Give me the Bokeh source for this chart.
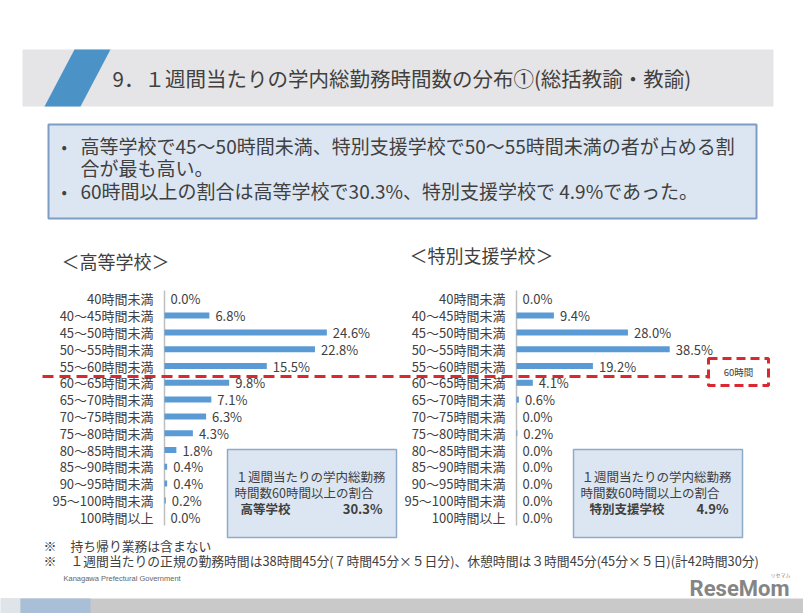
from bokeh.plotting import figure
from bokeh.models import Range1d, ColumnDataSource
from bokeh.embed import file_html
from bokeh.resources import INLINE
from bokeh.core.properties import value

# ---------------- data ----------------
categories = ["40時間未満", "40～45時間未満", "45～50時間未満", "50～55時間未満",
              "55～60時間未満", "60～65時間未満", "65～70時間未満", "70～75時間未満",
              "75～80時間未満", "80～85時間未満", "85～90時間未満", "90～95時間未満",
              "95～100時間未満", "100時間以上"]
high_school = [0.0, 6.8, 24.6, 22.8, 15.5, 9.8, 7.1, 6.3, 4.3, 1.8, 0.4, 0.4, 0.2, 0.0]
special_support = [0.0, 9.4, 28.0, 38.5, 19.2, 4.1, 0.6, 0.0, 0.2, 0.0, 0.0, 0.0, 0.0, 0.0]
threshold_index = 5  # first category at or above 60 hours

title_text = "9．１週間当たりの学内総勤務時間数の分布①(総括教諭・教諭)"
bullet_lines = ["高等学校で45～50時間未満、特別支援学校で50～55時間未満の者が占める割",
                "合が最も高い。",
                "60時間以上の割合は高等学校で30.3%、特別支援学校で 4.9%であった。"]
notes = ["持ち帰り業務は含まない",
         "１週間当たりの正規の勤務時間は38時間45分(７時間45分×５日分)、休憩時間は３時間45分(45分×５日)(計42時間30分)"]

FONT = "Noto Sans CJK JP"
TXT = "#404040"
BAR = "#5b9bd5"
RED = "#d9282f"

W, H = 803, 613
p = figure(width=W, height=H, x_range=Range1d(0, W), y_range=Range1d(H, 0),
           output_backend="svg", toolbar_location=None, min_border=0,
           x_axis_location=None, y_axis_location=None)
p.grid.visible = False
p.outline_line_color = None
p.background_fill_color = "white"
p.border_fill_color = "white"

p.extra_x_ranges = {"hs": Range1d((0 - 164) / 6.6, (W - 164) / 6.6),
                    "ss": Range1d((0 - 516) / 3.98, (W - 516) / 3.98)}
p.extra_y_ranges = {"rows": Range1d((H - 298.3) / 16.8, (0 - 298.3) / 16.8)}

def txt(x, y, s, size, color=TXT, align="left", style="normal", font=FONT, **kw):
    p.text(x=[x], y=[y], text=[s], text_font=value(font), text_font_size=size,
           text_color=color, text_align=align, text_baseline="middle",
           text_font_style=style, **kw)

# ---------------- header ----------------
p.quad(left=22, right=773, top=49, bottom=106, fill_color="#e5e5e7", line_color=None)
p.patch(x=[74, 110, 80, 44], y=[49, 49, 106, 106], fill_color="#4b92c7", line_color=None)
txt(112, 77, title_text, "20.5px")

# bullet box
p.quad(left=48, right=756, top=124, bottom=218, fill_color="#dce6f2",
       line_color="#7d9dc5", line_width=2)
bullet_y = [145, 167, 190]
for i, (line, yy) in enumerate(zip(bullet_lines, bullet_y)):
    if i != 1:
        txt(61, yy, "•", "16px")
    txt(80, yy, line, "19px")

# chart titles
txt(61, 260, "＜高等学校＞", "18px")
txt(409, 254, "＜特別支援学校＞", "18px")

# ---------------- charts ----------------
def chart(vals, xr):
    n = len(categories)
    src = ColumnDataSource(dict(idx=list(range(n)), cat=categories, val=vals,
                                lab=[f"{v:.1f}%" for v in vals], zero=[0] * n))
    p.segment(x0=0, y0=-0.5, x1=0, y1=n - 0.5, x_range_name=xr, y_range_name="rows",
              line_color="#bfbfbf", line_width=1.5)
    p.hbar(y="idx", left=0, right="val", height=0.36, source=src, fill_color=BAR,
           line_color=None, x_range_name=xr, y_range_name="rows")
    p.text(x="zero", y="idx", text="cat", source=src, x_offset=-11, text_align="right",
           text_baseline="middle", text_font=value(FONT), text_font_size="13px",
           text_color=TXT, x_range_name=xr, y_range_name="rows")
    p.text(x="val", y="idx", text="lab", source=src, x_offset=6, text_align="left",
           text_baseline="middle", text_font=value(FONT), text_font_size="13px",
           text_color=TXT, x_range_name=xr, y_range_name="rows")

chart(high_school, "hs")
chart(special_support, "ss")

# 60-hour threshold line
p.segment(x0=[42], y0=[376], x1=[707], y1=[376], line_color=RED, line_width=3,
          line_dash="11 6")
p.quad(left=708, right=768, top=358, bottom=385, fill_color=None, line_color=RED,
       line_width=3, line_dash="9 5")
txt(738, 371, "60時間", "9.5px", align="center")

# summary boxes
hs_share = round(sum(high_school[threshold_index:]), 1)
ss_share = round(sum(special_support[threshold_index:]), 1)
for (l, r, name, share, nx) in [(227, 396, "高等学校", hs_share, 240),
                                 (573, 742, "特別支援学校", ss_share, 589)]:
    p.quad(left=l, right=r, top=449, bottom=537, fill_color="#dce6f2",
           line_color="#8eaacb", line_width=1.5)
    tx = l + 8
    txt(tx, 476, "１週間当たりの学内総勤務", "12.5px")
    txt(tx - 1, 492, "時間数60時間以上の割合", "12.5px")
    txt(nx, 507.5, name, "12.5px", style="bold")
    txt(r - 14, 507.5, f"{share:.1f}%", "13px", align="right", style="bold")

# ---------------- footer ----------------
for yy, note in zip([545, 560], notes):
    txt(43, yy, "※", "13px")
    txt(70, yy, note, "12.8px")
txt(63, 578, "Kanagawa Prefectural Government", "7.5px", color="#666666",
    font="Liberation Sans")
txt(789, 588, "ReseMom", "22px", color="#858585", align="right", style="bold",
    font="Roboto")
txt(780, 574, "リセマム", "5px", color="#858585", align="center")

p.quad(left=0, right=W, top=598, bottom=H, fill_color="#c9c9c9", line_color=None)
p.quad(left=0, right=20, top=598, bottom=H, fill_color="#dfe4ea", line_color=None)
p.quad(left=20, right=90, top=598, bottom=H, fill_color="#a9bfd8", line_color=None)

open("out.html", "w").write(file_html(p, INLINE))
